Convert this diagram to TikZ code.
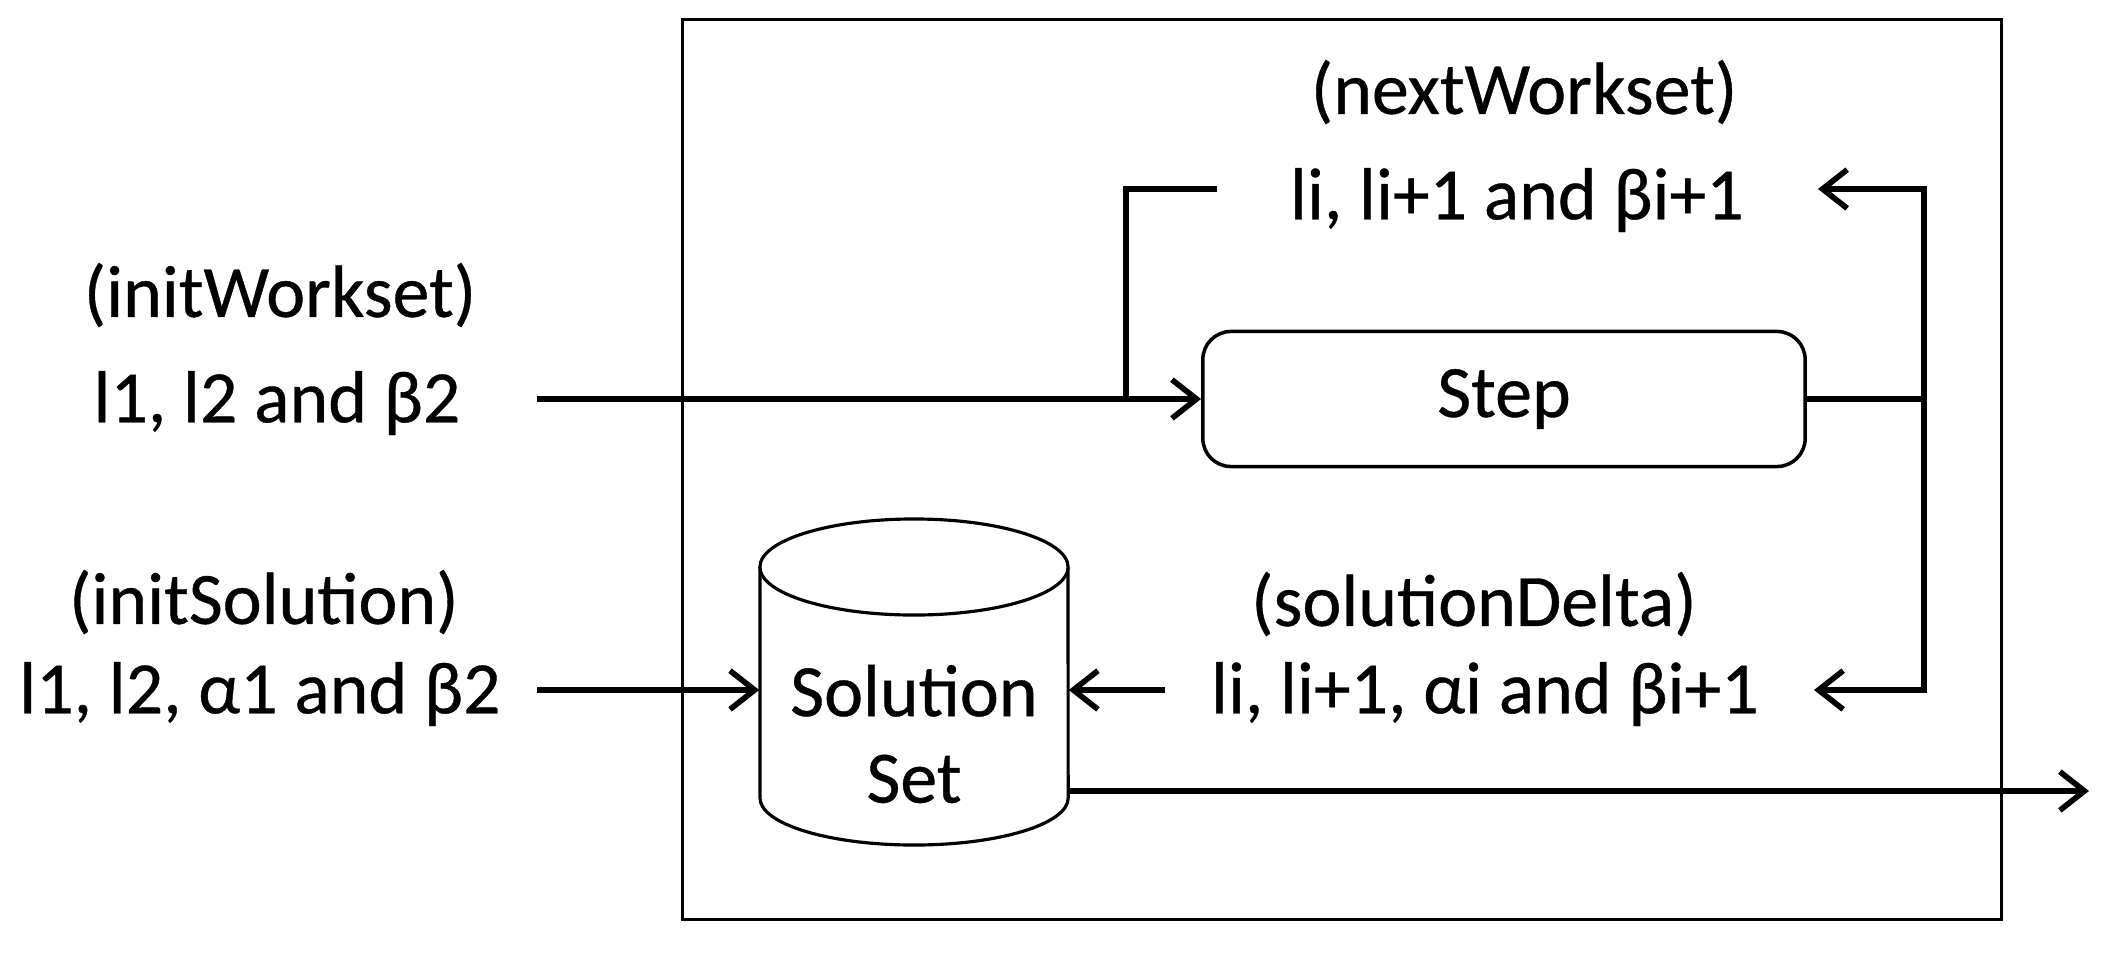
\documentclass[tikz,border=0pt]{standalone}
\usepackage{fontspec}
\setmainfont{Carlito}[FakeBold=0.5]
\usetikzlibrary{arrows.meta,positioning}
\tikzset{
  lbl/.style={inner sep=0pt, font=\fontsize{21}{25}\selectfont},
  conn/.style={line width=1.5pt},
  arr/.style={conn, -{Straight Barb[length=7pt,width=11pt,line width=1.6pt]}},
  stepbox/.style={draw, line width=1pt, rounded corners=8pt, minimum width=6.02cm, minimum height=1.35cm, inner sep=0pt, font=\fontsize{21}{25}\selectfont},
  frame/.style={draw, line width=0.8pt, inner sep=0pt}
}
\begin{document}
\begin{tikzpicture}[x=0.01cm,y=-0.01cm]
\useasboundingbox (0,0) rectangle (2120,954);
% outer frame
\node[frame, minimum width=13.18cm, minimum height=8.99cm] (frm) at (1342,469.5) {};
% labels
\node[lbl] (iw1) at (280,295) {(initWorkset)};
\node[lbl] (iw2) at (277,403) {l1, l2 and β2};
\node[lbl] (is1) at (264,602) {(initSolution)};
\node[lbl] (is2) at (260,694) {l1, l2, α1 and β2};
\node[lbl] (nw1) at (1524,92) {(nextWorkset)};
\node[lbl] (nw2) at (1517,200) {li, li+1 and βi+1};
\node[lbl] (sd1) at (1474,604) {(solutionDelta)};
\node[lbl] (sd2) at (1485,694) {li, li+1, αi and βi+1};
% step
\node[stepbox] (step) at (1504,399) {Step};
% cylinder (solution set)
\node[minimum width=3.08cm, minimum height=3.25cm, inner sep=0pt] (sol) at (914,682.5) {};
\draw[line width=0.9pt, fill=white] (760,567) -- (760,798) arc[start angle=180, end angle=360, x radius=1.54cm, y radius=0.47cm] -- (1068,567);
\draw[line width=0.9pt, fill=white] (914,567) ellipse [x radius=1.54cm, y radius=0.48cm];
\node[lbl, align=center, font=\fontsize{21}{24}\selectfont] (soltext) at (914,734) {Solution\\[0.6pt]Set};
% coordinates
\coordinate (iwout) at (537,399);
\coordinate (isout) at (537,690);
\coordinate (nwl) at (1217,189);
\coordinate (j1) at (1126,399);
\coordinate (j2) at (1924,399);
\coordinate (nwr) at (1818,189);
\coordinate (sdr) at (1814,690);
\coordinate (sdl) at (1165,690);
\coordinate (outend) at (2089,791);
% connectors
\draw[arr] (iwout) -- (step.west);
\draw[conn] (nwl) -| (j1);
\draw[conn] (step.east) -- (j2);
\draw[arr] (j2) |- (nwr);
\draw[arr] (j2) |- (sdr);
\draw[arr] (sdl) -- (sdl -| sol.east);
\draw[arr] (isout) -- (isout -| sol.west);
\draw[arr] (outend -| sol.east) -- (outend);
\end{tikzpicture}
\end{document}
